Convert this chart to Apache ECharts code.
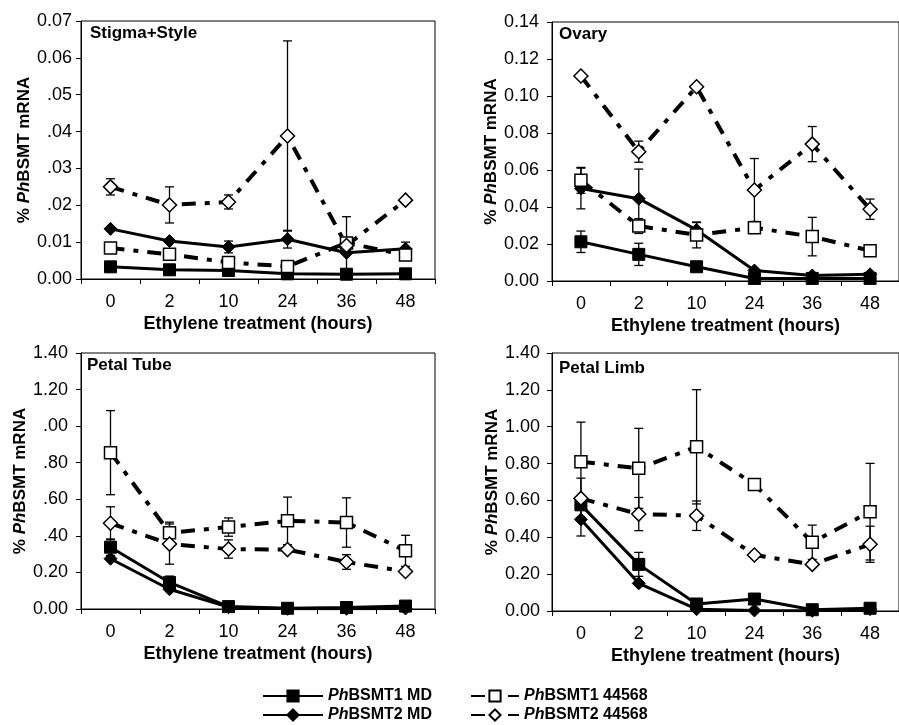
<!DOCTYPE html>
<html>
<head>
<meta charset="utf-8">
<script src="https://cdn.jsdelivr.net/npm/echarts@6/dist/echarts.min.js"></script>
<style>
  html, body { margin: 0; padding: 0; background: #fff; }
  #chart { width: 899px; height: 725px; }
</style>
</head>
<body>
<div id="chart"></div>
<script>
// Sampling times after ethylene treatment (hours)
const hours = ['0', '2', '10', '24', '36', '48'];

// Tick labels for each panel's value axis (bottom to top)
const ssTicks = ['0.00', '0.01', '.02', '.03', '.04', '.05', '0.06', '0.07'];
const ovTicks = ['0.00', '0.02', '0.04', '0.06', '0.08', '0.10', '0.12', '0.14'];
const ptTicks = ['0.00', '0.20', '.40', '.60', '.80', '.00', '1.20', '1.40'];
const plTicks = ['0.00', '0.20', '0.40', '0.60', '0.80', '1.00', '1.20', '1.40'];

// Stigma+Style
const ssBSMT1MD    = [0.0033, 0.0025, 0.0023, 0.0014, 0.0013, 0.0014];
const ssBSMT2MD    = [0.0136, 0.0103, 0.0087, 0.0108, 0.0071, 0.0082];
const ssBSMT1Line  = [0.0084, 0.0067, 0.0045, 0.0034, 0.0098, 0.0065];
const ssBSMT2Line  = [0.0250, 0.0201, 0.0209, 0.0388, 0.0091, 0.0214];
const ssErr1MD     = [0, 0, 0, 0, 0, 0];
const ssErr2MD     = [0, 0, 0.0016, 0.0024, 0, 0.0018];
const ssErr1Line   = [0.0013, 0, 0, 0, 0, 0];
const ssErr2Line   = [0.0022, 0.0049, 0.0019, 0.0258, 0.0078, 0];

// Ovary
const ovBSMT1MD    = [0.0212, 0.0144, 0.0077, 0.0014, 0.0014, 0.0014];
const ovBSMT2MD    = [0.0500, 0.0445, 0.0276, 0.0057, 0.0030, 0.0036];
const ovBSMT1Line  = [0.0544, 0.0297, 0.0249, 0.0288, 0.0240, 0.0164];
const ovBSMT2Line  = [0.1108, 0.0699, 0.1050, 0.0492, 0.0740, 0.0388];
const ovErr1MD     = [0.0058, 0.0060, 0, 0, 0, 0];
const ovErr2MD     = [0.0110, 0.0160, 0.0040, 0, 0, 0];
const ovErr1Line   = [0.0070, 0.0040, 0.0070, 0, 0.0104, 0];
const ovErr2Line   = [0, 0.0057, 0, 0.0170, 0.0095, 0.0055];

// Petal Tube
const ptBSMT1MD    = [0.338, 0.145, 0.013, 0.004, 0.008, 0.016];
const ptBSMT2MD    = [0.275, 0.108, 0.010, 0.001, 0.001, 0.003];
const ptBSMT1Line  = [0.855, 0.417, 0.448, 0.482, 0.473, 0.318];
const ptBSMT2Line  = [0.469, 0.355, 0.328, 0.325, 0.257, 0.205];
const ptErr1MD     = [0.045, 0.035, 0, 0, 0, 0];
const ptErr2MD     = [0, 0, 0, 0, 0, 0];
const ptErr1Line   = [0.230, 0.058, 0.050, 0.130, 0.135, 0.085];
const ptErr2Line   = [0.090, 0.110, 0.050, 0, 0.040, 0];

// Petal Limb
const plBSMT1MD    = [0.576, 0.253, 0.038, 0.065, 0.007, 0.015];
const plBSMT2MD    = [0.497, 0.150, 0.010, 0.003, 0.001, 0.010];
const plBSMT1Line  = [0.810, 0.774, 0.891, 0.687, 0.373, 0.539];
const plBSMT2Line  = [0.611, 0.526, 0.517, 0.304, 0.253, 0.362];
const plErr1MD     = [0, 0.065, 0, 0, 0, 0];
const plErr2MD     = [0.090, 0, 0, 0, 0, 0];
const plErr1Line   = [0.215, 0.217, 0.310, 0, 0.093, 0.262];
const plErr2Line   = [0.110, 0.090, 0.080, 0, 0, 0.098];

const NAME_1MD = 'PhBSMT1 MD';
const NAME_2MD = 'PhBSMT2 MD';
const NAME_1L = 'PhBSMT1 44568';
const NAME_2L = 'PhBSMT2 44568';

const FONT = '"Liberation Sans", Arial, Helvetica, sans-serif';

const panels = [
  { title: 'Stigma+Style', grid: { left: 81, top: 21, width: 354, height: 258 }, max: 0.07, step: 0.01, ticks: ssTicks, labelMargin: 9,
    s: [ssBSMT1MD, ssBSMT2MD, ssBSMT1Line, ssBSMT2Line], e: [ssErr1MD, ssErr2MD, ssErr1Line, ssErr2Line], tx: 90, ty: 25 },
  { title: 'Ovary', grid: { left: 552, top: 22, width: 353, height: 259 }, max: 0.14, step: 0.02, ticks: ovTicks, labelMargin: 13,
    s: [ovBSMT1MD, ovBSMT2MD, ovBSMT1Line, ovBSMT2Line], e: [ovErr1MD, ovErr2MD, ovErr1Line, ovErr2Line], tx: 559, ty: 26 },
  { title: 'Petal Tube', grid: { left: 81, top: 353, width: 354, height: 256 }, max: 1.4, step: 0.2, ticks: ptTicks, labelMargin: 13,
    s: [ptBSMT1MD, ptBSMT2MD, ptBSMT1Line, ptBSMT2Line], e: [ptErr1MD, ptErr2MD, ptErr1Line, ptErr2Line], tx: 87, ty: 357 },
  { title: 'Petal Limb', grid: { left: 552, top: 353, width: 353, height: 258 }, max: 1.4, step: 0.2, ticks: plTicks, labelMargin: 12,
    s: [plBSMT1MD, plBSMT2MD, plBSMT1Line, plBSMT2Line], e: [plErr1MD, plErr2MD, plErr1Line, plErr2Line], tx: 559, ty: 360 }
];

const seriesStyles = [
  { name: NAME_1MD, symbol: 'rect', symbolSize: 12, itemStyle: { color: '#000', borderColor: '#000', borderWidth: 1 },
    lineStyle: { color: '#000', width: 3, type: 'solid' } },
  { name: NAME_2MD, symbol: 'diamond', symbolSize: 13, itemStyle: { color: '#000', borderColor: '#000', borderWidth: 1 },
    lineStyle: { color: '#000', width: 3, type: 'solid' } },
  { name: NAME_1L, symbol: 'rect', symbolSize: 12, itemStyle: { color: '#fff', borderColor: '#000', borderWidth: 1.5 },
    lineStyle: { color: '#000', width: 4, type: [14, 9, 5, 9] } },
  { name: NAME_2L, symbol: 'diamond', symbolSize: 14, itemStyle: { color: '#fff', borderColor: '#000', borderWidth: 1.5 },
    lineStyle: { color: '#000', width: 4, type: [14, 9, 5, 9] } }
];

// Vertical error bars with short caps, positioned through the panel's axes
function errorBars(idx, values, errs) {
  const data = [];
  values.forEach((v, i) => { if (errs[i] > 0) data.push([i, v - errs[i], v + errs[i]]); });
  return {
    type: 'custom',
    xAxisIndex: idx,
    yAxisIndex: idx,
    silent: true,
    z: 1,
    data: data,
    encode: { x: 0, y: [1, 2] },
    renderItem: function (params, api) {
      const lo = api.coord([api.value(0), api.value(1)]);
      const hi = api.coord([api.value(0), api.value(2)]);
      const w = 4.5;
      const st = { stroke: '#000', lineWidth: 1.3 };
      return {
        type: 'group',
        children: [
          { type: 'line', shape: { x1: hi[0], y1: hi[1], x2: lo[0], y2: lo[1] }, style: st },
          { type: 'line', shape: { x1: hi[0] - w, y1: hi[1], x2: hi[0] + w, y2: hi[1] }, style: st },
          { type: 'line', shape: { x1: lo[0] - w, y1: lo[1], x2: lo[0] + w, y2: lo[1] }, style: st }
        ]
      };
    }
  };
}

const grids = [], xAxes = [], yAxes = [], series = [], titles = [];

panels.forEach((p, idx) => {
  grids.push(Object.assign({ show: true, borderColor: '#000', borderWidth: 1, backgroundColor: 'transparent' }, p.grid));
  xAxes.push({
    type: 'category', gridIndex: idx, data: hours, boundaryGap: true,
    axisLine: { lineStyle: { color: '#000', width: 1 } },
    axisTick: { show: true, inside: false, length: 5, interval: 0, alignWithLabel: false, lineStyle: { color: '#000' } },
    axisLabel: { color: '#000', fontSize: 18, fontFamily: FONT, margin: 14, interval: 0 },
    name: 'Ethylene treatment (hours)', nameLocation: 'middle', nameGap: 36,
    nameTextStyle: { color: '#000', fontSize: 18, fontWeight: 'bold', fontFamily: FONT }
  });
  yAxes.push({
    type: 'value', gridIndex: idx, min: 0, max: p.max, interval: p.step,
    splitLine: { show: false },
    axisLine: { show: true, lineStyle: { color: '#000', width: 1 } },
    axisTick: { show: true, inside: false, length: 5, lineStyle: { color: '#000' } },
    axisLabel: { color: '#000', fontSize: 18, fontFamily: FONT, margin: p.labelMargin,
      formatter: (function (ticks, step) { return function (v) { return ticks[Math.round(v / step)] || ''; }; })(p.ticks, p.step) },
    name: '{p|% }{i|Ph}{p|BSMT mRNA}', nameLocation: 'middle', nameGap: 48, nameRotate: 90,
    nameTextStyle: { rich: {
      p: { fontSize: 17, fontWeight: 'bold', fontFamily: FONT, color: '#000' },
      i: { fontSize: 17, fontWeight: 'bold', fontStyle: 'italic', fontFamily: FONT, color: '#000' }
    } }
  });
  titles.push({ text: p.title, left: p.tx, top: p.ty, padding: 0,
    textStyle: { fontSize: 17, fontWeight: 'bold', fontFamily: FONT, color: '#000' } });

  p.e.forEach((errs, k) => series.push(errorBars(idx, p.s[k], errs)));
  p.s.forEach((vals, k) => {
    const st = seriesStyles[k];
    series.push({
      type: 'line', name: st.name, xAxisIndex: idx, yAxisIndex: idx, data: vals,
      symbol: st.symbol, symbolSize: st.symbolSize, showAllSymbol: true,
      itemStyle: st.itemStyle, lineStyle: st.lineStyle, z: k >= 2 ? 4 : 3,
      animation: false, silent: true
    });
  });
});

const legendText = {
  rich: {
    i: { fontSize: 16, fontWeight: 'bold', fontStyle: 'italic', fontFamily: FONT, color: '#000' },
    b: { fontSize: 16, fontWeight: 'bold', fontFamily: FONT, color: '#000' }
  }
};
const legendFormatter = name => '{i|' + name.slice(0, 2) + '}{b|' + name.slice(2) + '}';

const chart = echarts.init(document.getElementById('chart'), null, { renderer: 'canvas' });
chart.setOption({
  animation: false,
  backgroundColor: '#fff',
  textStyle: { fontFamily: FONT },
  title: titles,
  grid: grids,
  xAxis: xAxes,
  yAxis: yAxes,
  legend: [
    { data: [NAME_1MD, NAME_2MD], orient: 'vertical', left: 262, top: 688, padding: 0,
      itemWidth: 60, itemHeight: 14, itemGap: 3, formatter: legendFormatter, textStyle: legendText, selectedMode: false },
    { data: [NAME_1L, NAME_2L], orient: 'vertical', left: 470, top: 688, padding: 0,
      itemWidth: 48, itemHeight: 14, itemGap: 3, formatter: legendFormatter, textStyle: legendText, selectedMode: false }
  ],
  series: series
});
</script>
</body>
</html>
